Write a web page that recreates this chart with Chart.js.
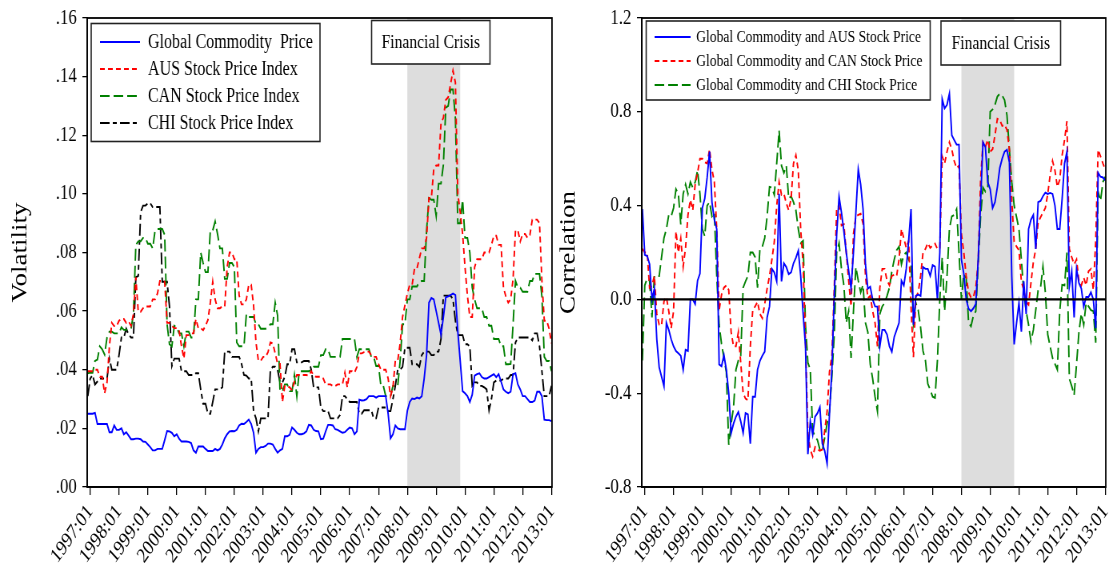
<!DOCTYPE html>
<html>
<head>
<meta charset="utf-8">
<script src="https://cdn.jsdelivr.net/npm/chart.js@4.4.1/dist/chart.umd.min.js"></script>
<style>
  html, body { margin: 0; padding: 0; background: #fff; }
  #wrap { position: relative; width: 1114px; height: 570px; overflow: hidden; background: #fff; }
  .panel { position: absolute; top: 0; width: 557px; height: 570px; overflow: hidden; }
  /* the plots are drawn wide and squeezed horizontally, giving the narrow serif lettering */
  .panel canvas { transform: scaleX(0.8); transform-origin: 0 0; }
</style>
</head>
<body>
<div id="wrap">
  <div class="panel" style="left:0"><canvas id="vol" width="696" height="570"></canvas></div>
  <div class="panel" style="left:557px"><canvas id="corr" width="696" height="570"></canvas></div>
</div>
<script>
// ---- categories and tick labels ----
const firstMonth = '1996:12';
const lastMonth = '2013:01';
const xTickLabels = ['1997:01','1998:01','1999:01','2000:01','2001:01','2002:01','2003:01','2004:01',
  '2005:01','2006:01','2007:01','2008:01','2009:01','2010:01','2011:01','2012:01','2013:01'];
const crisisPeriod = ['2008:01', '2009:11'];
const volTicks = [0, 0.02, 0.04, 0.06, 0.08, 0.10, 0.12, 0.14, 0.16];
const volTickLabels = ['.00', '.02', '.04', '.06', '.08', '.10', '.12', '.14', '.16'];
const corrTicks = [-0.8, -0.4, 0, 0.4, 0.8, 1.2];
const corrTickLabels = ['-0.8', '-0.4', '0.0', '0.4', '0.8', '1.2'];

// ---- volatility series (1996:12 .. 2013:01, monthly) ----
const volCommodity = [0.025,
  0.025,0.025,0.0253,0.0215,0.0215,0.0215,0.0215,0.0215,0.0187,0.0187,0.021,0.0195,
  0.0195,0.020,0.018,0.0187,0.0175,0.0163,0.0163,0.0165,0.0165,0.0163,0.0155,0.0154,
  0.0145,0.0136,0.0125,0.0125,0.013,0.013,0.013,0.016,0.0191,0.019,0.0185,0.0173,
  0.018,0.0165,0.0155,0.0155,0.0155,0.0154,0.015,0.0125,0.0117,0.0138,0.0138,0.0138,
  0.013,0.0123,0.0123,0.0123,0.013,0.0125,0.013,0.0145,0.0166,0.018,0.019,0.0191,
  0.019,0.0195,0.021,0.0216,0.0215,0.0222,0.023,0.0215,0.0185,0.0117,0.013,0.0136,
  0.0136,0.014,0.0148,0.0148,0.0145,0.013,0.0117,0.0125,0.013,0.0173,0.0173,0.0178,
  0.0203,0.0195,0.0185,0.018,0.018,0.0183,0.019,0.0212,0.021,0.0195,0.0191,0.019,
  0.0163,0.0165,0.019,0.0212,0.0212,0.021,0.0197,0.0195,0.019,0.0185,0.0187,0.0195,
  0.0203,0.020,0.018,0.019,0.0298,0.0295,0.0296,0.030,0.031,0.031,0.031,0.0305,
  0.031,0.031,0.031,0.031,0.025,0.0166,0.018,0.021,0.020,0.0197,0.0197,0.0197,
  0.026,0.029,0.0302,0.030,0.0305,0.0302,0.031,0.037,0.045,0.0629,0.0645,0.064,
  0.060,0.056,0.052,0.058,0.0647,0.065,0.0655,0.066,0.0655,0.053,0.043,0.0327,
  0.032,0.031,0.029,0.0315,0.038,0.0385,0.0388,0.0375,0.037,0.037,0.0375,0.038,
  0.0385,0.0375,0.0385,0.036,0.0333,0.0325,0.032,0.0325,0.0385,0.0388,0.035,0.0333,
  0.031,0.031,0.030,0.029,0.029,0.0295,0.0325,0.0325,0.031,0.023,0.0228,0.0228,
  0.0225];

const volAUS = [0.0395,
  0.0395,0.0395,0.040,0.040,0.0376,0.0376,0.032,0.0357,0.048,0.056,0.0549,0.0549,
  0.0567,0.0573,0.0573,0.056,0.0565,0.055,0.059,0.0715,0.0598,0.0598,0.061,0.0616,
  0.0616,0.0616,0.064,0.064,0.066,0.0703,0.0703,0.070,0.056,0.056,0.055,0.0542,
  0.0542,0.0535,0.048,0.0438,0.0518,0.0518,0.0524,0.0524,0.0573,0.0542,0.0542,0.0535,
  0.055,0.057,0.0629,0.070,0.064,0.061,0.061,0.0616,0.0616,0.075,0.080,0.080,
  0.0777,0.0777,0.0653,0.0623,0.0623,0.064,0.069,0.069,0.062,0.0493,0.0431,0.0431,
  0.0444,0.0444,0.046,0.0493,0.049,0.0456,0.042,0.042,0.029,0.0345,0.0345,0.034,
  0.033,0.036,0.0382,0.0382,0.0382,0.0382,0.0382,0.038,0.0395,0.038,0.0376,0.0376,
  0.0376,0.037,0.035,0.035,0.035,0.0345,0.0345,0.035,0.035,0.035,0.039,0.034,
  0.0395,0.0395,0.039,0.041,0.0456,0.0456,0.046,0.0462,0.0462,0.045,0.0444,0.0444,
  0.042,0.040,0.040,0.040,0.037,0.031,0.034,0.0431,0.0431,0.049,0.058,0.062,
  0.066,0.069,0.069,0.0746,0.0746,0.078,0.0814,0.0814,0.085,0.0986,0.0986,0.1085,
  0.1097,0.1097,0.124,0.126,0.132,0.133,0.1375,0.142,0.138,0.100,0.0937,0.0863,
  0.075,0.0653,0.058,0.058,0.075,0.0777,0.0777,0.0777,0.080,0.080,0.080,0.0826,
  0.0857,0.0857,0.0826,0.0826,0.068,0.065,0.0629,0.064,0.071,0.0875,0.0875,0.0838,
  0.0863,0.0863,0.085,0.086,0.0912,0.0912,0.0912,0.090,0.0703,0.0567,0.0567,0.054,
  0.049];

const volCAN = [0.0388,
  0.039,0.039,0.043,0.0435,0.048,0.047,0.0452,0.051,0.053,0.053,0.0524,0.0524,
  0.0524,0.0545,0.0536,0.0536,0.054,0.054,0.059,0.0826,0.0838,0.0838,0.085,0.085,
  0.083,0.083,0.0814,0.0875,0.088,0.088,0.088,0.086,0.0555,0.0487,0.048,0.055,
  0.0545,0.0524,0.0524,0.048,0.053,0.053,0.051,0.051,0.064,0.064,0.080,0.0764,
  0.0733,0.0733,0.0875,0.0875,0.0906,0.0863,0.0814,0.0814,0.071,0.071,0.0764,0.0764,
  0.075,0.0493,0.048,0.048,0.048,0.059,0.058,0.058,0.058,0.0555,0.0555,0.054,
  0.054,0.054,0.0545,0.0555,0.0555,0.0629,0.0585,0.0327,0.0327,0.035,0.035,0.0327,
  0.0327,0.0382,0.031,0.0395,0.0395,0.0395,0.0395,0.0395,0.040,0.041,0.041,0.041,
  0.045,0.045,0.047,0.047,0.0444,0.0444,0.0444,0.0444,0.0444,0.0505,0.0505,0.0505,
  0.0505,0.0505,0.0505,0.0444,0.047,0.047,0.047,0.047,0.047,0.0444,0.0444,0.0413,
  0.0413,0.0345,0.0345,0.031,0.031,0.031,0.0345,0.0345,0.0345,0.043,0.0555,0.0555,
  0.064,0.064,0.0684,0.0684,0.0684,0.070,0.0703,0.0703,0.0875,0.0986,0.098,0.098,
  0.0925,0.1035,0.1035,0.110,0.1294,0.130,0.1356,0.1356,0.1257,0.090,0.090,0.098,
  0.085,0.085,0.080,0.068,0.064,0.061,0.061,0.061,0.058,0.058,0.055,0.055,
  0.0505,0.0505,0.0505,0.048,0.048,0.0419,0.0419,0.042,0.0555,0.0703,0.068,0.068,
  0.0666,0.0666,0.0666,0.0703,0.0703,0.0727,0.0727,0.0727,0.065,0.0444,0.043,0.043,
  0.0395];

const volCHI = [0.031,
  0.037,0.0382,0.035,0.036,0.037,0.037,0.037,0.037,0.0438,0.040,0.040,0.040,
  0.045,0.051,0.051,0.054,0.052,0.051,0.051,0.0715,0.072,0.0937,0.096,0.096,
  0.0968,0.0968,0.0955,0.0955,0.0955,0.0955,0.070,0.070,0.070,0.0616,0.0413,0.0438,
  0.0438,0.0438,0.0395,0.0395,0.0395,0.0382,0.0382,0.0382,0.0388,0.0388,0.0333,0.0284,
  0.0284,0.025,0.025,0.029,0.0333,0.0333,0.0333,0.034,0.0462,0.0462,0.0462,0.0444,
  0.0444,0.0444,0.0444,0.042,0.0382,0.038,0.037,0.037,0.0259,0.0234,0.019,0.0234,
  0.0234,0.0234,0.0234,0.040,0.041,0.041,0.040,0.0357,0.0357,0.0376,0.0419,0.0419,
  0.047,0.047,0.0425,0.0425,0.0425,0.043,0.043,0.043,0.040,0.034,0.034,0.034,
  0.0271,0.0259,0.0259,0.0259,0.0234,0.0234,0.0234,0.0234,0.0246,0.031,0.031,0.030,
  0.029,0.029,0.029,0.029,0.025,0.025,0.0262,0.0262,0.0262,0.0262,0.0234,0.0234,
  0.0271,0.0271,0.0271,0.0271,0.0259,0.0259,0.030,0.0345,0.040,0.040,0.041,0.0475,
  0.0475,0.0475,0.0419,0.0419,0.0419,0.041,0.045,0.0462,0.0462,0.0462,0.045,0.045,
  0.0462,0.0462,0.0505,0.0653,0.0653,0.0653,0.0653,0.064,0.0567,0.0518,0.0518,0.0518,
  0.0487,0.0487,0.048,0.0345,0.0357,0.0357,0.0345,0.0345,0.034,0.0333,0.0262,0.030,
  0.0357,0.0363,0.0363,0.0363,0.037,0.037,0.037,0.0382,0.0382,0.0493,0.051,0.051,
  0.051,0.051,0.051,0.051,0.050,0.0524,0.0524,0.048,0.0395,0.031,0.031,0.031,
  0.0345];

// ---- rolling correlation series (1996:12 .. 2013:01, monthly) ----
const corrAUS = [0.385,
  0.19,0.185,0.15,0.0,0.046,-0.17,-0.29,-0.33,-0.37,-0.1,-0.13,-0.17,
  -0.2,-0.22,-0.23,-0.24,-0.3,-0.215,-0.22,0.0,0.0,-0.02,0.08,0.11,
  0.39,0.43,0.52,0.63,0.415,0.34,0.3,-0.277,-0.285,-0.238,-0.3,-0.4,
  -0.57,-0.53,-0.5,-0.48,-0.52,-0.57,-0.485,-0.49,-0.615,-0.415,-0.415,-0.3,
  -0.262,-0.24,-0.223,-0.077,-0.03,0.13,0.115,0.077,0.45,0.077,0.154,0.138,
  0.108,0.115,0.154,0.177,0.208,0.1,-0.06,-0.2,-0.66,-0.52,-0.577,-0.5,
  -0.485,-0.46,-0.615,-0.646,-0.7,-0.49,-0.3,0.015,0.277,0.438,0.37,0.29,
  0.2,0.123,0.046,0.2,0.37,0.554,0.49,0.385,0.15,0.046,0.054,0.0,
  -0.03,-0.031,-0.2,-0.13,-0.13,-0.15,-0.2,-0.223,-0.16,-0.13,-0.1,0.08,
  0.06,0.13,0.25,0.385,-0.108,0.015,0.02,0.015,0.138,0.13,0.13,0.1,
  0.146,0.14,0.0,0.2,0.854,0.815,0.83,0.877,0.7,0.68,0.66,0.66,
  0.17,0.11,0.0,-0.04,-0.05,-0.038,-0.02,0.17,0.415,0.67,0.65,0.5,
  0.47,0.39,0.415,0.48,0.56,0.6,0.63,0.638,0.585,0.1,-0.192,-0.1,
  -0.015,-0.138,0.077,-0.062,0.3,0.34,0.36,0.215,0.415,0.42,0.44,0.455,
  0.45,0.454,0.45,0.4,0.3,0.3,0.43,0.58,0.63,0.054,0.12,-0.077,
  0.13,0.07,0.046,-0.031,0.01,0.01,0.03,0.0,-0.123,0.54,0.523,0.52,
  0.508];

const corrCAN = [0.215,
  0.2,0.2,0.05,0.06,0.1,-0.062,-0.108,-0.11,-0.008,0.01,-0.05,-0.123,
  -0.05,0.29,0.2,0.26,0.14,0.22,0.36,0.425,0.38,0.49,0.54,0.6,
  0.6,0.585,0.58,0.64,0.554,0.5,0.3,-0.046,0.02,0.05,0.06,0.04,
  -0.14,-0.2,-0.2,-0.14,-0.27,-0.4,-0.423,-0.43,-0.2,-0.046,-0.03,-0.01,
  -0.062,-0.08,-0.02,0.046,0.1,0.17,0.246,0.4,0.5,0.446,0.45,0.41,
  0.38,0.43,0.58,0.615,0.55,0.3,0.15,-0.18,-0.57,-0.64,-0.67,-0.63,
  -0.64,-0.645,-0.64,-0.56,-0.48,-0.308,-0.24,0.05,0.39,0.4,0.315,0.32,
  0.2,0.08,-0.03,0.28,0.354,0.36,0.365,0.323,0.1,0.005,0.015,-0.05,
  -0.1,-0.2,0.05,0.13,0.13,0.08,0.06,0.1,0.105,0.1,0.17,0.3,
  0.26,0.22,0.25,-0.031,-0.246,0.01,0.03,0.1,0.2,0.215,0.24,0.22,
  0.23,0.238,0.215,0.22,0.61,0.58,0.63,0.67,0.64,0.59,0.56,0.57,
  0.28,0.2,0.1,0.03,0.008,0.01,0.05,0.16,0.508,0.67,0.65,0.68,
  0.63,0.64,0.7,0.77,0.765,0.74,0.745,0.723,0.64,0.42,0.246,0.225,
  0.21,0.077,0.04,-0.01,-0.023,0.07,0.16,0.215,0.33,0.35,0.37,0.39,
  0.45,0.53,0.59,0.55,0.48,0.51,0.615,0.68,0.76,0.215,0.18,0.15,
  0.17,0.08,0.06,0.092,0.06,0.12,0.13,0.04,0.25,0.638,0.61,0.58,
  0.554];

const corrCHI = [-0.26,
  0.06,0.09,0.08,-0.077,0.1,0.1,0.1,0.18,0.262,0.3,0.36,0.354,
  0.39,0.47,0.45,0.32,0.45,0.49,0.45,0.5,0.477,0.5,0.55,0.45,
  0.3,0.27,0.4,0.415,0.354,0.37,0.1,-0.108,-0.19,-0.25,-0.31,-0.62,
  -0.53,-0.46,-0.3,-0.26,-0.24,0.05,0.077,0.1,0.2,0.2,0.18,0.05,
  0.215,0.225,0.262,0.354,0.48,0.477,0.446,0.58,0.72,0.57,0.54,0.57,
  0.43,0.44,0.415,0.38,0.3,0.24,0.25,-0.108,-0.27,-0.3,-0.56,-0.585,
  -0.6,-0.64,-0.646,-0.59,-0.53,-0.477,-0.33,-0.15,0.2,0.24,0.13,0.06,
  -0.1,-0.05,-0.25,-0.05,0.138,0.08,0.03,0.062,-0.1,-0.14,-0.277,-0.338,
  -0.415,-0.477,-0.062,-0.03,-0.015,0.015,0.05,0.12,0.17,0.21,0.225,0.15,
  0.19,0.2,0.17,0.15,-0.1,-0.015,-0.046,-0.12,-0.22,-0.26,-0.36,-0.385,
  -0.415,-0.42,-0.26,0.0,0.18,-0.05,0.1,0.3,0.354,0.36,0.385,0.2,
  0.0,0.108,0.09,-0.1,-0.115,-0.07,-0.05,0.15,0.354,0.477,0.46,0.48,
  0.8,0.81,0.83,0.865,0.877,0.87,0.85,0.785,0.64,0.5,0.4,0.35,
  0.3,0.17,0.03,-0.05,-0.108,-0.18,-0.13,-0.046,0.04,0.05,0.14,0.03,
  -0.15,-0.2,-0.25,-0.275,-0.3,-0.05,0.062,0.06,0.2,-0.338,-0.37,-0.408,
  -0.277,-0.14,-0.06,-0.108,-0.015,-0.03,-0.046,-0.05,-0.185,0.46,0.42,0.5,
  0.523];

// ---- helpers ----
const SERIF = '"Liberation Serif", "Times New Roman", serif';

// months since 1997:01 for a 'YYYY:MM' label
function monthIndex(label) {
  const [y, m] = label.split(':').map(Number);
  return (y - 1997) * 12 + (m - 1);
}

const months = [];
for (let i = monthIndex(firstMonth); i <= monthIndex(lastMonth); i++) {
  const y = 1997 + Math.floor(i / 12);
  const m = ((i % 12) + 12) % 12 + 1;
  months.push(y + ':' + String(m).padStart(2, '0'));
}

function toPoints(values) {
  return values.map((v, i) => ({ x: monthIndex(months[i]), y: v }));
}

function lineSet(label, values, color, dash) {
  return {
    label, data: toPoints(values), borderColor: color, backgroundColor: color,
    borderWidth: 1.9, borderDash: dash, pointRadius: 0, fill: false, tension: 0
  };
}

// grey band behind the lines for the crisis period
const crisisShade = {
  id: 'crisisShade',
  beforeDatasetsDraw(chart) {
    const { ctx, chartArea: a, scales: { x } } = chart;
    const x0 = x.getPixelForValue(monthIndex(crisisPeriod[0]));
    const x1 = x.getPixelForValue(monthIndex(crisisPeriod[1]));
    ctx.save();
    ctx.fillStyle = '#dddddd';
    ctx.fillRect(x0, a.top, x1 - x0, a.bottom - a.top);
    ctx.restore();
  }
};

// zero line, plot frame, line key and the crisis caption box
const panelOverlay = {
  id: 'panelOverlay',
  afterDatasetsDraw(chart, args, o) {
    const { ctx, chartArea: a, scales: { y } } = chart;
    ctx.save();
    if (o.zeroLine) {
      const y0 = y.getPixelForValue(0);
      ctx.strokeStyle = '#000';
      ctx.lineWidth = 2.2;
      ctx.beginPath(); ctx.moveTo(a.left, y0); ctx.lineTo(a.right, y0); ctx.stroke();
    }
    ctx.strokeStyle = '#000';
    ctx.lineWidth = 1.8;
    ctx.strokeRect(a.left, a.top, a.right - a.left, a.bottom - a.top);

    const K = o.key;
    ctx.fillStyle = '#fff';
    ctx.fillRect(K.x, K.y, K.w, K.h);
    ctx.strokeStyle = '#222';
    ctx.lineWidth = 1.6;
    ctx.strokeRect(K.x, K.y, K.w, K.h);
    ctx.font = K.size + 'px ' + SERIF;
    ctx.textBaseline = 'middle';
    ctx.textAlign = 'left';
    chart.data.datasets.forEach((ds, i) => {
      const ry = K.y + K.first + i * K.step;
      ctx.strokeStyle = ds.borderColor;
      ctx.lineWidth = ds.borderWidth;
      ctx.setLineDash(ds.borderDash || []);
      ctx.beginPath(); ctx.moveTo(K.x + K.sample[0], ry); ctx.lineTo(K.x + K.sample[1], ry); ctx.stroke();
      ctx.setLineDash([]);
      ctx.fillStyle = '#000';
      ctx.fillText(ds.label, K.x + K.textX, ry + 1);
    });

    const C = o.caption;
    ctx.fillStyle = '#fff';
    ctx.fillRect(C.x, C.y, C.w, C.h);
    ctx.strokeStyle = '#222';
    ctx.lineWidth = 1.6;
    ctx.strokeRect(C.x, C.y, C.w, C.h);
    ctx.fillStyle = '#000';
    ctx.font = C.size + 'px ' + SERIF;
    ctx.textAlign = 'center';
    ctx.fillText(C.text, C.x + C.w / 2, C.y + C.h / 2 + 1);
    ctx.restore();
  }
};

function buildOptions(cfg) {
  return {
    responsive: false,
    animation: false,
    devicePixelRatio: 1,
    layout: { padding: { top: 18, right: cfg.rightPad, left: 0, bottom: 0 } },
    plugins: {
      legend: { display: false },
      tooltip: { enabled: false },
      panelOverlay: cfg.overlay
    },
    scales: {
      x: {
        type: 'linear',
        min: -1.25, max: 192.2,
        afterBuildTicks: s => { s.ticks = xTickLabels.map(l => ({ value: monthIndex(l) })); },
        afterFit: s => { s.height = 83; s.paddingLeft = 0; s.paddingRight = 0; },
        ticks: {
          autoSkip: false, minRotation: 49, maxRotation: 49, padding: 5,
          color: '#000', font: { family: SERIF, size: 21 },
          callback: (v, i) => xTickLabels[i]
        },
        grid: { drawOnChartArea: false, drawTicks: true, tickLength: 8, color: '#000', lineWidth: 1.3 },
        border: { display: true, color: '#000', width: 1.8 }
      },
      y: {
        type: 'linear',
        min: cfg.ticks[0], max: cfg.ticks[cfg.ticks.length - 1],
        afterBuildTicks: s => { s.ticks = cfg.ticks.map(v => ({ value: v })); },
        afterFit: s => { s.width = cfg.axisWidth; s.paddingTop = 0; s.paddingBottom = 0; },
        ticks: {
          padding: 7, color: '#000', font: { family: SERIF, size: 21 },
          callback: (v, i) => cfg.tickLabels[i]
        },
        grid: { drawOnChartArea: false, drawTicks: true, tickLength: 6, color: '#000', lineWidth: 1.3 },
        border: { display: true, color: '#000', width: 1.8 },
        title: {
          display: true, text: cfg.title, color: '#000',
          font: { family: SERIF, size: 27, lineHeight: 1 },
          padding: { top: cfg.titlePad, bottom: 0 }
        }
      }
    }
  };
}

new Chart(document.getElementById('vol'), {
  type: 'line',
  data: {
    datasets: [
      lineSet('Global Commodity  Price', volCommodity, '#0000ff', []),
      lineSet('AUS Stock Price Index', volAUS, '#ff0000', [6, 4]),
      lineSet('CAN Stock Price Index', volCAN, '#008000', [12, 5]),
      lineSet('CHI Stock Price Index', volCHI, '#000000', [12, 4, 5, 4])
    ]
  },
  options: buildOptions({
    rightPad: 6, axisWidth: 109, ticks: volTicks, tickLabels: volTickLabels,
    title: 'Volatility', titlePad: 12,
    overlay: {
      zeroLine: false,
      key: { x: 114, y: 23.5, w: 286, h: 118, first: 18.5, step: 27, sample: [11, 61], textX: 71, size: 20 },
      caption: { x: 464.5, y: 20.5, w: 148, h: 43.5, size: 19.5, text: 'Financial Crisis' }
    }
  }),
  plugins: [crisisShade, panelOverlay]
});

new Chart(document.getElementById('corr'), {
  type: 'line',
  data: {
    datasets: [
      lineSet('Global Commodity and AUS Stock Price', corrAUS, '#0000ff', []),
      lineSet('Global Commodity and CAN Stock Price', corrCAN, '#ff0000', [6, 4]),
      lineSet('Global Commodity and CHI Stock Price', corrCHI, '#008000', [12, 5])
    ]
  },
  options: buildOptions({
    rightPad: 10, axisWidth: 106, ticks: corrTicks, tickLabels: corrTickLabels,
    title: 'Correlation', titlePad: 1,
    overlay: {
      zeroLine: true,
      key: { x: 111.5, y: 21, w: 355, h: 79, first: 16, step: 24, sample: [10.5, 55.5], textX: 62.5, size: 17 },
      caption: { x: 480, y: 21, w: 149.5, h: 44, size: 19.5, text: 'Financial Crisis' }
    }
  }),
  plugins: [crisisShade, panelOverlay]
});
</script>
</body>
</html>
